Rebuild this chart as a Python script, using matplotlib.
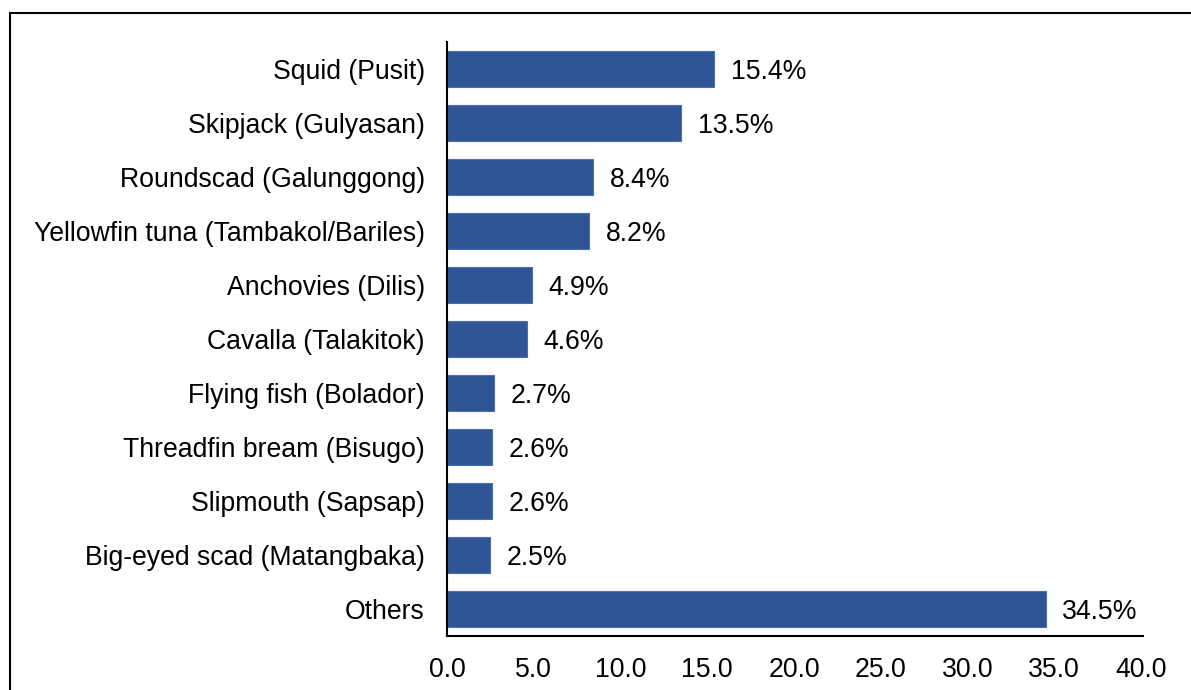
import matplotlib.pyplot as plt
from matplotlib.patches import Rectangle

# data (top to bottom)
species = ['Squid (Pusit)', 'Skipjack (Gulyasan)', 'Roundscad (Galunggong)',
           'Yellowfin tuna (Tambakol/Bariles)', 'Anchovies (Dilis)',
           'Cavalla (Talakitok)', 'Flying fish (Bolador)',
           'Threadfin bream (Bisugo)', 'Slipmouth (Sapsap)',
           'Big-eyed scad (Matangbaka)', 'Others']
shares = [15.4, 13.5, 8.4, 8.2, 4.9, 4.6, 2.7, 2.6, 2.6, 2.5, 34.5]
xticks = [0, 5, 10, 15, 20, 25, 30, 35, 40]

plt.rcParams['font.family'] = ['Liberation Sans', 'DejaVu Sans']
fs = 19.2

fig = plt.figure(figsize=(11.91, 6.9), dpi=100)
ax = fig.add_axes([447 / 1191, 1 - 636 / 690, (1141 - 447) / 1191, (636 - 42) / 690])

pos = list(range(len(species)))
bars = ax.barh(pos, shares, height=0.65, color='#2F5597', edgecolor='#4A6FB0', linewidth=0.8)
for b, v in zip(bars, shares):
    ax.annotate('{:.1f}%'.format(v), (b.get_width(), b.get_y() + b.get_height() / 2),
                xytext=(12, 0), textcoords='offset points', va='center_baseline', ha='left',
                fontsize=fs, color='black')

ax.set_yticks(pos)
ax.set_yticklabels(species, fontsize=fs)
ax.set_ylim(len(species) - 0.5, -0.5)
ax.set_xlim(0, 40)
ax.set_xticks(xticks)
ax.set_xticklabels(['{:.1f}'.format(t) for t in xticks], fontsize=fs)
ax.tick_params(axis='y', length=0, pad=16)
ax.tick_params(axis='x', length=0, pad=15)

for s in ['top', 'right']:
    ax.spines[s].set_visible(False)
for s in ['left', 'bottom']:
    ax.spines[s].set_linewidth(1.5)
    ax.spines[s].set_color('black')
ax.spines['bottom'].set_bounds(0, 40.1)

# outer frame, cut off on the right and bottom
fig.patches.append(Rectangle((9.5 / 1191, -0.2), 1.2, 1.2 - 12.5 / 690,
                             transform=fig.transFigure, fill=False,
                             edgecolor='black', linewidth=1.5))

fig.savefig('out.png', dpi=100)
